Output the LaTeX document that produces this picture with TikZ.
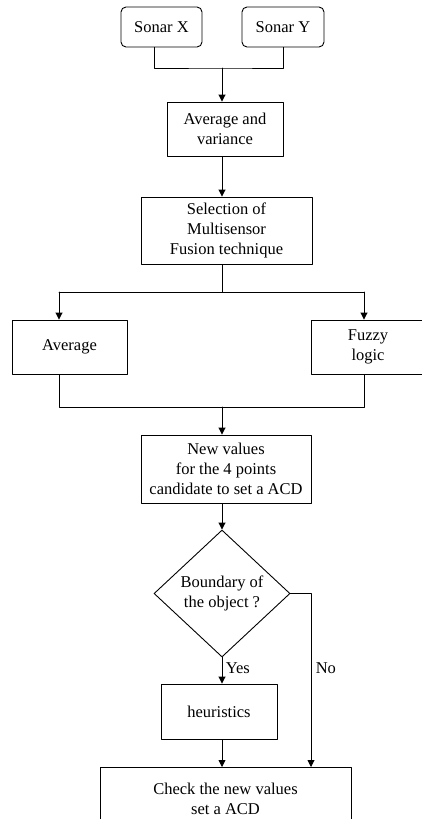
\documentclass[tikz,border=0pt]{standalone}
\usepackage{fontspec}
\setmainfont{Liberation Serif}
\usetikzlibrary{shapes.geometric,arrows.meta}

\begin{document}
\begin{tikzpicture}[x=1pt,y=-1pt, line cap=round,line join=round,
  every node/.style={font=\fontsize{16.5}{20}\selectfont},
  box/.style={draw,line width=0.9pt,inner sep=2pt,align=center},
  sonar/.style={box,rounded corners=5pt},
  arr/.style={line width=0.9pt,-{Triangle[length=7pt,width=7pt]}},
  ln/.style={line width=0.9pt}]
\useasboundingbox (0,0) rectangle (422,819);

\node[sonar,minimum width=81pt,minimum height=40pt] (sx) at (161.5,27) {Sonar X};
\node[sonar,minimum width=82pt,minimum height=40pt] (sy) at (283,27) {Sonar Y};
\node[box,minimum width=116pt,minimum height=54pt] (avv) at (225,129) {Average and\\variance};
\node[box,minimum width=171pt,minimum height=67pt] (sel) at (226.5,230.5) {Selection of\\Multisensor\\Fusion technique};
\node[box,minimum width=115pt,minimum height=54pt] (avg) at (69.5,347) {Average};
\node[box,minimum width=114pt,minimum height=54pt] (fuz) at (368,347) {Fuzzy\\logic};
\node[box,minimum width=170pt,minimum height=68pt] (new) at (226,469) {New values\\for the 4 points\\candidate to set a ACD};
\node[draw,diamond,line width=0.9pt,inner sep=0pt,minimum width=136pt,minimum height=127pt,align=center] (bnd) at (222,593.5) {Boundary of\\the object ?};
\node[box,minimum width=116pt,minimum height=55pt] (heu) at (219,711.5) {heuristics};
\node[box,anchor=north,minimum width=251pt,minimum height=62pt] (chk) at (225.5,767) {Check the new values\\set a ACD};

\coordinate (j1) at (222,68);
\coordinate (j2) at (222,292);
\coordinate (l1) at (59,292);
\coordinate (r1) at (364,292);
\coordinate (l2) at (59,407);
\coordinate (r2) at (364,407);
\coordinate (j3) at (222,407);
\coordinate (no) at (311,593.5);

\draw[ln] ([xshift=-7.5pt]sx.south) |- (j1) -| (sy.south);
\draw[arr] (j1) -- (j1 |- avv.north);
\draw[arr] (j1 |- avv.south) -- (j1 |- sel.north);
\draw[ln] (j2 |- sel.south) -- (j2);
\draw[ln] (l1) -- (r1);
\draw[arr] (l1) -- (l1 |- avg.north);
\draw[arr] (r1) -- (r1 |- fuz.north);
\draw[ln] (l1 |- avg.south) -- (l2) -- (r2) -- (r1 |- fuz.south);
\draw[arr] (j3) -- (j3 |- new.north);
\draw[arr] (j3 |- new.south) -- (bnd.north);
\draw[arr] (bnd.south) -- (j3 |- heu.north) node[pos=0.4,right=0pt] {Yes};
\draw[ln] (bnd.east) -- (no);
\draw[arr] (no) -- (no |- chk.north) node[pos=0.43,right=1pt] {No};
\draw[arr] (j3 |- heu.south) -- (j3 |- chk.north);
\end{tikzpicture}
\end{document}
